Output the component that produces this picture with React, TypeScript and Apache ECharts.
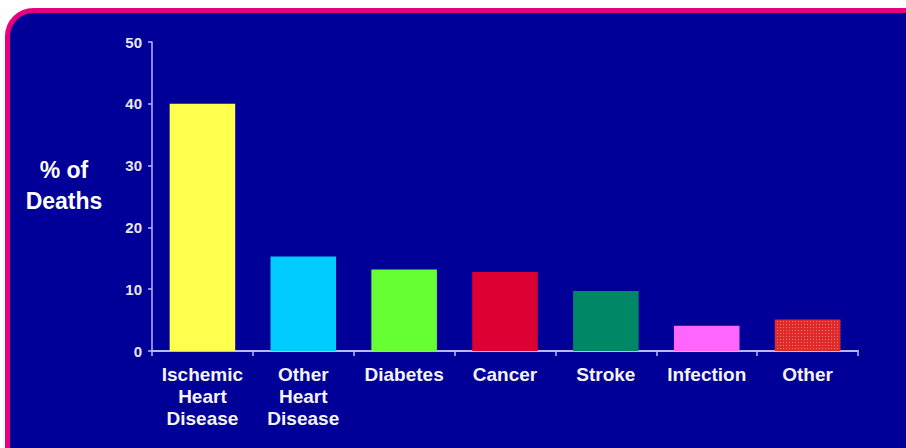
import React, { useEffect, useRef } from "react";
import * as echarts from "echarts";

const categories = [
  "Ischemic\nHeart\nDisease",
  "Other\nHeart\nDisease",
  "Diabetes",
  "Cancer",
  "Stroke",
  "Infection",
  "Other",
];
const values = [40, 15.3, 13.2, 12.8, 9.7, 4.1, 5.1];
const barColors = ["#ffff4d", "#00ccff", "#66ff33", "#dd0033", "#008866", "#ff66ff", "#e02a2a"];
const yTicks = [0, 10, 20, 30, 40, 50];
const yTitle = "% of\nDeaths";

export default function App() {
  const ref = useRef<HTMLDivElement>(null);
  useEffect(() => {
    document.body.style.margin = "0";
    document.body.style.background = "#ffffff";
    const chart = echarts.init(ref.current!, null, { renderer: "svg" });
    const data = values.map((v, i) => {
      const item: any = { value: v, itemStyle: { color: barColors[i] } };
      if (i === values.length - 1) {
        item.itemStyle.decal = {
          symbol: "rect",
          symbolSize: 1,
          color: "rgba(255,160,160,0.7)",
          dashArrayX: [1, 2],
          dashArrayY: [1, 2],
          rotation: 0,
        };
      }
      return item;
    });
    chart.setOption({
      animation: false,
      backgroundColor: "#ffffff",
      graphic: [
        {
          type: "rect",
          z: -10,
          silent: true,
          shape: { x: 7.5, y: 10.5, width: 930, height: 470, r: 26 },
          style: { fill: "#000099", stroke: "#e8007f", lineWidth: 5 },
        },
        {
          type: "text",
          x: 64,
          y: 185,
          style: {
            text: yTitle,
            fill: "#ffffff",
            font: "bold 23px 'Liberation Sans', Arial, sans-serif",
            textAlign: "center",
            textVerticalAlign: "middle",
            lineHeight: 31,
          },
        },
      ],
      grid: { left: 152, right: 48, top: 42, bottom: 97, containLabel: false },
      xAxis: {
        type: "category",
        data: categories,
        axisLine: { lineStyle: { color: "#b8b8ff", width: 2 } },
        axisTick: { show: true, length: 5, lineStyle: { color: "#b8b8ff", width: 1.5 } },
        axisLabel: {
          color: "#f4f4f4",
          fontFamily: "'Liberation Sans', Arial, sans-serif",
          fontWeight: "bold",
          fontSize: 19,
          lineHeight: 22,
          margin: 12,
          interval: 0,
        },
      },
      yAxis: {
        type: "value",
        min: yTicks[0],
        max: yTicks[yTicks.length - 1],
        interval: 10,
        splitLine: { show: false },
        axisLine: { show: true, lineStyle: { color: "#b8b8ff", width: 1.5 } },
        axisTick: { show: true, length: 4, lineStyle: { color: "#b8b8ff", width: 1.5 } },
        axisLabel: {
          color: "#e8e8e8",
          fontFamily: "'Liberation Sans', Arial, sans-serif",
          fontWeight: "bold",
          fontSize: 15,
          margin: 10,
        },
      },
      series: [
        {
          type: "bar",
          data,
          barCategoryGap: "35%",
        },
      ],
    });
    return () => chart.dispose();
  }, []);
  return <div ref={ref} style={{ width: 906, height: 448 }} />;
}
